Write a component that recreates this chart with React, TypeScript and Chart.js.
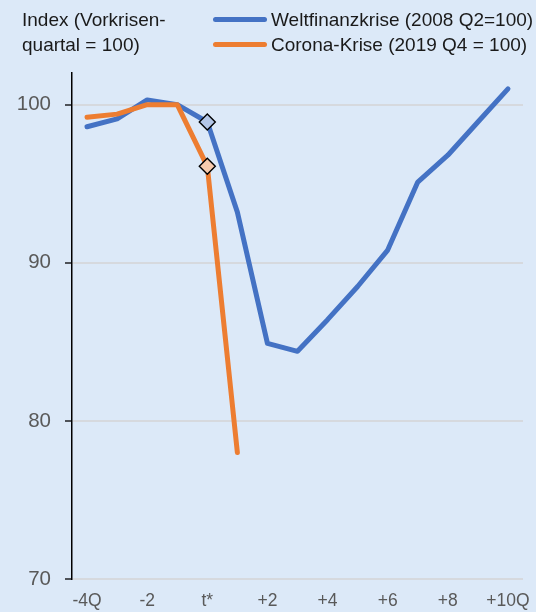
import React, { useEffect, useRef } from "react";
import { Chart, registerables } from "chart.js";

Chart.register(...registerables);

const quarters = [-4, -3, -2, -1, 0, 1, 2, 3, 4, 5, 6, 7, 8, 9, 10];
const tickLabels = ["-4Q", "", "-2", "", "t*", "", "+2", "", "+4", "", "+6", "", "+8", "", "+10Q"];
const weltfinanzkrise = [98.6, 99.1, 100.3, 100.0, 98.9, 93.2, 84.9, 84.4, 86.4, 88.5, 90.8, 95.1, 96.8, 98.9, 101.0];
const coronaKrise = [99.2, 99.4, 100.0, 100.0, 96.1, 78.0, null, null, null, null, null, null, null, null, null];
const markerIndex = 4;

const BG = "#dce9f8";
const FONT = "'Liberation Sans', Arial, sans-serif";

export default function App() {
  const canvasRef = useRef<HTMLCanvasElement | null>(null);

  useEffect(() => {
    document.body.style.margin = "0";
    document.body.style.background = BG;
    const canvas = canvasRef.current;
    if (!canvas) return;
    const chart = new Chart(canvas, {
      type: "line",
      data: {
        labels: quarters.map(String),
        datasets: [
          {
            label: "Corona-Krise (2019 Q4 = 100)",
            data: coronaKrise,
            borderColor: "#ed7d31",
            borderWidth: 5,
            borderCapStyle: "round",
            borderJoinStyle: "round",
            pointRadius: (ctx: any) => (ctx.dataIndex === markerIndex ? 8 : 0),
            pointHoverRadius: 0,
            pointStyle: "rectRot",
            pointBackgroundColor: "#f8cbad",
            pointBorderColor: "#000",
            pointBorderWidth: 1.4,
            order: 0,
            spanGaps: false,
          },
          {
            label: "Weltfinanzkrise (2008 Q2=100)",
            data: weltfinanzkrise,
            borderColor: "#4472c4",
            borderWidth: 5,
            borderCapStyle: "round",
            borderJoinStyle: "round",
            pointRadius: (ctx: any) => (ctx.dataIndex === markerIndex ? 8 : 0),
            pointHoverRadius: 0,
            pointStyle: "rectRot",
            pointBackgroundColor: "#b4c7e7",
            pointBorderColor: "#000",
            pointBorderWidth: 1.4,
            order: 1,
          },
        ],
      },
      options: {
        responsive: false,
        animation: false,
        events: [],
        layout: { padding: { top: 73, right: 13, left: 0, bottom: 0 } },
        plugins: {
          legend: { display: false },
          tooltip: { enabled: false },
          title: { display: false },
        },
        scales: {
          x: {
            type: "category",
            offset: true,
            grid: {
              display: true,
              drawOnChartArea: false,
              drawTicks: true,
              tickLength: 12,
              color: "rgba(0,0,0,0)",
              tickColor: "rgba(0,0,0,0)",
            },
            border: { display: false },
            ticks: {
              autoSkip: false,
              maxRotation: 0,
              padding: 0,
              color: "#595959",
              font: { family: FONT, size: 17.5 },
              callback: (_v: any, i: number) => tickLabels[i],
            },
            afterFit: (s: any) => {
              s.height = 33;
            },
          },
          y: {
            min: 70,
            max: 102,
            ticks: {
              stepSize: 10,
              padding: 14,
              color: "#595959",
              font: { family: FONT, size: 20.5 },
            },
            afterBuildTicks: (s: any) => {
              s.ticks = s.ticks.filter((t: any) => t.value % 10 === 0);
            },
            grid: {
              color: "#d6d9de",
              lineWidth: 2,
              tickColor: "#000",
              tickLength: 7,
              tickWidth: 1.3,
            },
            border: { color: "#000", width: 1.5 },
            afterFit: (s: any) => {
              s.width = 72;
            },
          },
        },
      },
    });
    return () => chart.destroy();
  }, []);

  const textStyle: React.CSSProperties = {
    position: "absolute",
    fontFamily: FONT,
    fontSize: 19,
    lineHeight: "25px",
    color: "#1a1a1a",
    whiteSpace: "nowrap",
  };
  const lineSample = (color: string, top: number): React.CSSProperties => ({
    position: "absolute",
    left: 213,
    top,
    width: 54,
    height: 5,
    borderRadius: 3,
    background: color,
  });

  return (
    <div style={{ position: "relative", width: 536, height: 612, background: BG, overflow: "hidden" }}>
      <canvas ref={canvasRef} width={536} height={612} style={{ position: "absolute", left: 0, top: 0 }} />
      <div style={{ ...textStyle, left: 22, top: 7 }}>
        Index (Vorkrisen-
        <br />
        quartal = 100)
      </div>
      <div style={lineSample("#4472c4", 17)} />
      <div style={{ ...textStyle, left: 271, top: 7 }}>Weltfinanzkrise (2008 Q2=100)</div>
      <div style={lineSample("#ed7d31", 42)} />
      <div style={{ ...textStyle, left: 271, top: 32 }}>Corona-Krise (2019 Q4 = 100)</div>
    </div>
  );
}
